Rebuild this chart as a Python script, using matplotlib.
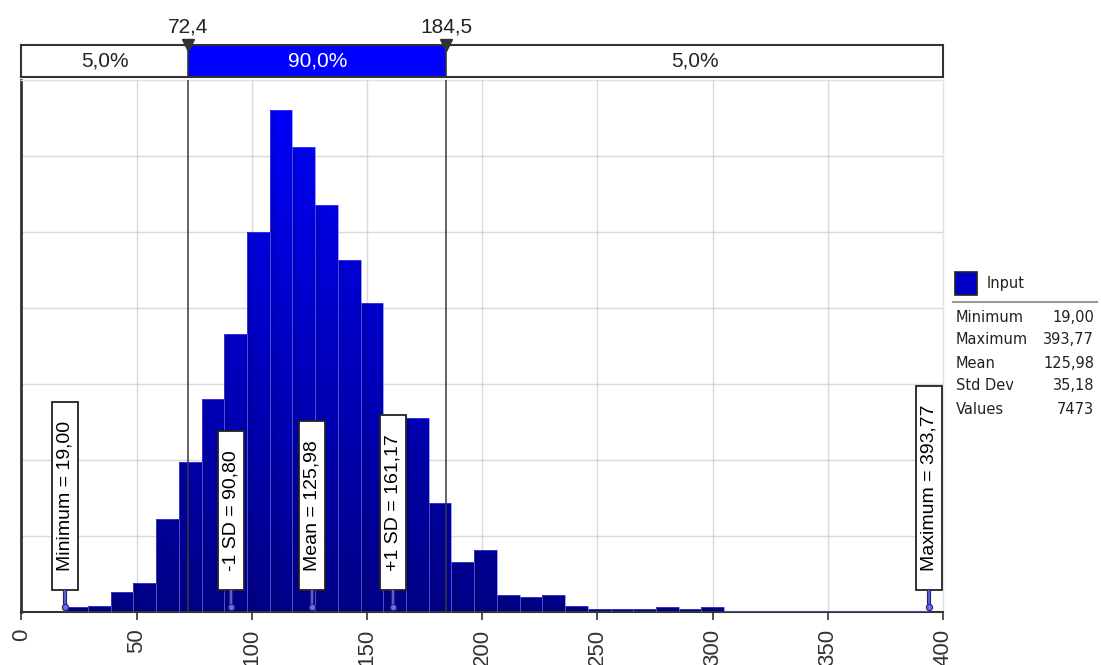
import numpy as np
import matplotlib.pyplot as plt
from matplotlib.patches import Rectangle
from matplotlib.lines import Line2D
from matplotlib.path import Path

plt.rcParams['font.family'] = ['Liberation Sans', 'DejaVu Sans']

# simulation results: 38 equal bins between min and max
x_min = 19.00
x_max = 393.77
n_bins = 38
density = [
    0.00014, 0.00016, 0.00052, 0.00076, 0.00246, 0.00394, 0.00560, 0.00732,
    0.01000, 0.01320, 0.01224, 0.01070, 0.00926, 0.00812, 0.00516, 0.00510,
    0.00286, 0.00132, 0.00164, 0.00044, 0.00040, 0.00044, 0.00016, 0.00008,
    0.00008, 0.00008, 0.00012, 0.00008, 0.00012, 0.00003, 0.00003, 0.00002,
    0.00002, 0.00002, 0.00002, 0.00002, 0.00002, 0.00002,
]
mean = 125.98
std_dev = 35.18
n_values = 7473

# 5% / 95% delimiters
p_low = 72.4
p_high = 184.5
band_pct = [5.0, 90.0, 5.0]

marker_names = ['Minimum', '-1 SD', 'Mean', '+1 SD', 'Maximum']
marker_values = [x_min, 90.80, mean, 161.17, x_max]

stat_names = ['Minimum', 'Maximum', 'Mean', 'Std Dev', 'Values']
stat_values = [x_min, x_max, mean, std_dev]

x_ticks = [0, 50, 100, 150, 200, 250, 300, 350, 400]


def comma(v, nd=2):
    return f"{v:.{nd}f}".replace('.', ',')


W, H = 1101, 665


def fx(px):
    return px / W


def fy(py):
    return 1 - py / H


fig = plt.figure(figsize=(W / 100, H / 100), dpi=100)
fig.patch.set_facecolor('white')

ax_l, ax_r, ax_t, ax_b = 21.4, 943, 80, 612
ax = fig.add_axes([fx(ax_l), fy(ax_b), (ax_r - ax_l) / W, (ax_b - ax_t) / H])
y_top = 0.014

edges = np.linspace(x_min, x_max, n_bins + 1)
bw = edges[1] - edges[0]
bars = ax.bar(edges[:-1], density, width=bw, align='edge', color='none',
              edgecolor=(0.35, 0.35, 1.0, 0.6), linewidth=0.7, zorder=3)

# vertical blue gradient, each bar a bit darker on its left side
xs = np.linspace(0, 400, 1600)
ys = np.linspace(0, y_top, 500)
frac = ((xs - x_min) / bw) % 1
hshade = 0.84 + 0.16 * np.clip(frac / 0.3, 0, 1)
vshade = 0.52 + 0.48 * (ys / y_top)
rgb = np.zeros((len(ys), len(xs), 3))
rgb[..., 2] = vshade[:, None] * hshade[None, :]
im = ax.imshow(rgb, extent=[0, 400, 0, y_top], origin='lower', aspect='auto',
               interpolation='bilinear', zorder=2)
verts, codes = [], []
for p in bars:
    x0, w, h = p.get_x(), p.get_width(), p.get_height()
    verts += [(x0, 0), (x0 + w, 0), (x0 + w, h), (x0, h), (x0, 0)]
    codes += [Path.MOVETO, Path.LINETO, Path.LINETO, Path.LINETO, Path.CLOSEPOLY]
im.set_clip_path(Path(verts, codes), ax.transData)

ax.set_xlim(0, 400)
ax.set_ylim(0, y_top)
ax.set_xticks(x_ticks)
ax.set_xticklabels([str(t) for t in x_ticks], rotation=90, fontsize=16, color='#333333')
ax.set_yticks(np.arange(0, y_top + 1e-9, 0.002))
ax.tick_params(axis='y', length=0, labelleft=False)
ax.tick_params(axis='x', length=6, width=1.2, color='#333333', pad=6)
ax.set_axisbelow(True)
ax.grid(True, color='#e8e8e8', lw=1)
for y in np.arange(0.002, y_top, 0.002):
    ax.axhline(y, color='black', alpha=0.06, lw=1, zorder=4)
for x in x_ticks[1:-1]:
    ax.axvline(x, color='black', alpha=0.06, lw=1, zorder=4)

ax.spines['left'].set_color('#333333')
ax.spines['left'].set_linewidth(2)
ax.spines['bottom'].set_color('#333333')
ax.spines['bottom'].set_linewidth(1.5)
for s in ('top', 'right'):
    ax.spines[s].set_color('#e4e4e4')
    ax.spines[s].set_linewidth(1)

for v in (p_low, p_high):
    ax.axvline(v, color='#3a3a3a', lw=1.1, zorder=5)

# value markers: boxed vertical labels with a pointer down to the axis
renderer = fig.canvas.get_renderer()
to_data = ax.transData.inverted()
box_bottom = H - 590
tip = H - 607
for name, val in zip(marker_names, marker_values):
    t = ax.text(val, 0, f"{name} = {comma(val)}", rotation=90, ha='center', va='center',
                fontsize=14, color='black', zorder=8)
    ext = t.get_window_extent(renderer)
    length = ext.height + 38
    xd = ax.transData.transform((val, 0))[0]
    (x0, y0) = to_data.transform((xd - 13, box_bottom))
    (x1, y1) = to_data.transform((xd + 13, box_bottom + length))
    ax.add_patch(Rectangle((x0, y0), x1 - x0, y1 - y0, facecolor='white',
                           edgecolor='#222222', lw=1.3, zorder=7, clip_on=False))
    t.set_position((val, (y0 + y1) / 2))
    ytip = to_data.transform((xd, tip))[1]
    ax.plot([val, val], [y0, ytip], color='#26266e', lw=3.0, zorder=7,
            solid_capstyle='butt', clip_on=False)
    ax.plot([val, val], [y0, ytip], color='#6666ee', lw=1.2, zorder=7,
            solid_capstyle='butt', clip_on=False)
    ax.plot([val], [ytip], marker='o', ms=4.5, color='#6a6aff', mec='#26266e',
            mew=0.8, zorder=8, clip_on=False)

# percentile band above the plot
bax = fig.add_axes([fx(ax_l), fy(77), (ax_r - ax_l) / W, (77 - 45) / H])
bax.set_xlim(0, 400)
bax.set_ylim(0, 1)
bax.set_xticks([])
bax.set_yticks([])
for s in bax.spines.values():
    s.set_color('#333333')
    s.set_linewidth(1.5)
bax.axvspan(p_low, p_high, color='#0000ff', lw=0)
for v in (p_low, p_high):
    bax.axvline(v, color='#333333', lw=1.2)
seg_mid = [(0 + p_low) / 2, (p_low + p_high) / 2, (p_high + 400) / 2]
for xm, pct, col in zip(seg_mid, band_pct, ['#222222', 'white', '#222222']):
    bax.text(xm, 0.5, f"{comma(pct, 1)}%", ha='center', va='center',
             fontsize=15, color=col)
bax.plot([p_low, p_high], [1.0, 1.0], ls='none', marker='v', ms=8,
         color='#333333', clip_on=False, zorder=5)
for v in (p_low, p_high):
    bax.text(v, 1 + (45 - 27) / 32, comma(v, 1), ha='center', va='center',
             fontsize=15, color='#222222', clip_on=False)

# legend with summary statistics
lg_font = 'DejaVu Sans'
fig.patches.append(Rectangle((fx(955), fy(295)), 22 / W, 23 / H, transform=fig.transFigure,
                             facecolor='#0000c8', edgecolor='#222222', lw=1.2))
fig.text(fx(987), fy(283), 'Input', fontsize=10.5, family=lg_font, va='center', color='#222222')
fig.add_artist(Line2D([fx(953), fx(1097)], [fy(302), fy(302)], color='#999999', lw=1.5))
stat_text = [comma(v) for v in stat_values] + [str(n_values)]
for i, (name, val) in enumerate(zip(stat_names, stat_text)):
    yy = fy(317 + 23 * i)
    fig.text(fx(956), yy, name, fontsize=10.5, family=lg_font, va='center', color='#222222')
    fig.text(fx(1094), yy, val, fontsize=10.5, family=lg_font, va='center', ha='right',
             color='#222222')

fig.savefig('out.png', dpi=100, facecolor='white')
